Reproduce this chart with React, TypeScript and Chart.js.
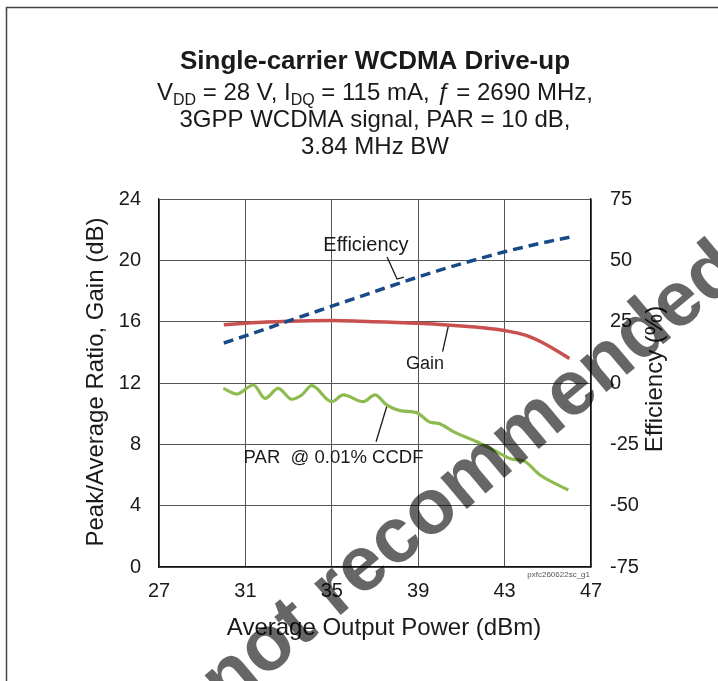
import React, { useEffect, useRef } from "react";
import { Chart, registerables } from "chart.js";

Chart.register(...registerables);

// ---------- data ----------
const effPower = [30, 31, 32, 33, 34, 35, 36, 37, 38, 39, 40, 41, 42, 43, 44, 45, 46];
const effValues = [16.3, 19.2, 22.2, 25.3, 28.3, 31.3, 34.3, 37.3, 40.3, 43.2, 46.0, 48.6, 51.1, 53.5, 55.6, 57.6, 59.4];

const gainPower = [30, 31, 32, 33, 34, 35, 36, 37, 38, 39, 40, 41, 42, 43, 44, 45, 46];
const gainValues = [15.8, 15.9, 15.98, 16.03, 16.06, 16.07, 16.05, 16.0, 15.95, 15.9, 15.82, 15.72, 15.6, 15.42, 15.1, 14.45, 13.6];

const parPower = [29.98, 30.6, 31.37, 31.91, 32.52, 33.14, 33.61, 34.07, 35.0, 35.53, 36.46, 37.0, 37.54, 38.16, 38.93, 39.55, 39.93, 40.63, 41.71, 42.48, 43.4, 43.87, 44.64, 45.95];
const parValues = [11.65, 11.28, 11.87, 11.0, 11.65, 10.94, 11.22, 11.83, 10.78, 11.22, 10.78, 11.22, 10.57, 10.2, 10.07, 9.44, 9.37, 8.83, 8.17, 7.63, 7.02, 6.93, 6.0, 5.02];

const xTicks = [27, 31, 35, 39, 43, 47];
const leftTicks = [0, 4, 8, 12, 16, 20, 24];
const rightTicks = [-75, -50, -25, 0, 25, 50, 75];

const titleText = "Single-carrier WCDMA Drive-up";
const subtitleLine2 = "3GPP WCDMA signal, PAR = 10 dB,";
const subtitleLine3 = "3.84 MHz BW";
const xTitle = "Average Output Power (dBm)";
const yTitle = "Peak/Average Ratio, Gain (dB)";
const y1Title = "Efficiency (%)";
const figureCode = "pxfc260622sc_g1";
const watermark = "not recommended";

// annotation labels (data coordinates on x / left y axis)
const effLabel = { text: "Efficiency", x: 36.58, y: 20.61, leader: [[37.56, 20.22], [38.02, 18.78], [38.34, 18.91]] };
const gainLabel = { text: "Gain", x: 39.31, y: 12.91, leader: [[40.13, 14.04], [40.39, 15.67]] };
const parLabel = { text: "PAR  @ 0.01% CCDF", x: 35.08, y: 6.78, leader: [[37.05, 8.17], [37.54, 10.45]] };

const FONT = "'Liberation Sans', Arial, Helvetica, sans-serif";

const toXY = (xs: number[], ys: number[]) => xs.map((x, i) => ({ x, y: ys[i] }));

type Seg = { t: string; sub?: boolean; it?: boolean };

function drawRich(ctx: CanvasRenderingContext2D, segs: Seg[], cx: number, baseline: number, size: number) {
  const fontFor = (s: Seg) =>
    `${s.it ? "italic " : ""}${s.sub ? Math.round(size * 0.68) : size}px ${FONT}`;
  let total = 0;
  for (const s of segs) {
    ctx.font = fontFor(s);
    total += ctx.measureText(s.t).width;
  }
  let x = cx - total / 2;
  ctx.textAlign = "left";
  ctx.textBaseline = "alphabetic";
  for (const s of segs) {
    ctx.font = fontFor(s);
    ctx.fillText(s.t, x, baseline + (s.sub ? size * 0.22 : 0));
    x += ctx.measureText(s.t).width;
  }
}

const overlayPlugin = {
  id: "overlay",
  beforeDraw(chart: any) {
    const ctx: CanvasRenderingContext2D = chart.ctx;
    ctx.save();
    ctx.fillStyle = "#ffffff";
    ctx.fillRect(0, 0, chart.width, chart.height);
    ctx.strokeStyle = "#444";
    ctx.lineWidth = 1.5;
    ctx.beginPath();
    ctx.moveTo(6.5, chart.height);
    ctx.lineTo(6.5, 7.5);
    ctx.lineTo(chart.width, 7.5);
    ctx.stroke();
    ctx.restore();
  },
  afterDraw(chart: any) {
    const ctx: CanvasRenderingContext2D = chart.ctx;
    const area = chart.chartArea;
    const xs = chart.scales.x;
    const ys = chart.scales.y;
    ctx.save();
    ctx.fillStyle = "#1a1a1a";

    // titles
    const cx = (area.left + area.right) / 2;
    ctx.font = `bold 26px ${FONT}`;
    ctx.textAlign = "center";
    ctx.textBaseline = "alphabetic";
    ctx.fillText(titleText, cx, 69);
    drawRich(
      ctx,
      [
        { t: "V" },
        { t: "DD", sub: true },
        { t: " = 28 V, I" },
        { t: "DQ", sub: true },
        { t: " = 115 mA, " },
        { t: "ƒ", it: true },
        { t: " = 2690 MHz," },
      ],
      cx,
      100,
      24
    );
    drawRich(ctx, [{ t: subtitleLine2 }], cx, 127, 24);
    drawRich(ctx, [{ t: subtitleLine3 }], cx, 154, 24);

    // axis titles
    ctx.font = `24px ${FONT}`;
    ctx.textAlign = "center";
    ctx.textBaseline = "middle";
    ctx.fillText(xTitle, cx + 9, 628);
    const cy = (area.top + area.bottom) / 2;
    ctx.save();
    ctx.translate(96, cy - 1);
    ctx.rotate(-Math.PI / 2);
    ctx.fillText(yTitle, 0, 0);
    ctx.restore();
    ctx.save();
    ctx.translate(655, cy - 4);
    ctx.rotate(-Math.PI / 2);
    ctx.fillText(y1Title, 0, 0);
    ctx.restore();

    // figure code
    ctx.font = `8px ${FONT}`;
    ctx.fillStyle = "#555";
    ctx.textAlign = "right";
    ctx.textBaseline = "middle";
    ctx.fillText(figureCode, area.right - 1, area.bottom + 8);

    // annotations
    ctx.fillStyle = "#1a1a1a";
    ctx.strokeStyle = "#1a1a1a";
    ctx.lineWidth = 1.3;
    const labels = [
      { l: effLabel, size: 20 },
      { l: gainLabel, size: 18 },
      { l: parLabel, size: 18.5 },
    ];
    for (const { l, size } of labels) {
      ctx.font = `${size}px ${FONT}`;
      ctx.textAlign = "center";
      ctx.textBaseline = "alphabetic";
      ctx.fillText(l.text, xs.getPixelForValue(l.x), ys.getPixelForValue(l.y));
      ctx.beginPath();
      l.leader.forEach((p, i) => {
        const px = xs.getPixelForValue(p[0]);
        const py = ys.getPixelForValue(p[1]);
        if (i === 0) ctx.moveTo(px, py);
        else ctx.lineTo(px, py);
      });
      ctx.stroke();
    }

    // watermark
    ctx.save();
    ctx.translate(486, 493);
    ctx.rotate((-40 * Math.PI) / 180);
    ctx.font = `bold 78px ${FONT}`;
    ctx.fillStyle = "rgba(0,0,0,0.6)";
    ctx.textAlign = "center";
    ctx.textBaseline = "alphabetic";
    ctx.fillText(watermark, 0, 0);
    ctx.restore();

    ctx.restore();
  },
};

export default function App() {
  const canvasRef = useRef<HTMLCanvasElement | null>(null);

  useEffect(() => {
    const canvas = canvasRef.current;
    if (!canvas) return;
    Chart.defaults.font.family = FONT;
    const tickFont = { size: 20, family: FONT };
    const chart = new Chart(canvas, {
      type: "line",
      data: {
        datasets: [
          {
            label: "Efficiency",
            data: toXY(effPower, effValues),
            yAxisID: "y1",
            borderColor: "#174a86",
            borderWidth: 3.5,
            borderDash: [10, 6],
            pointRadius: 0,
            cubicInterpolationMode: "monotone",
            fill: false,
          },
          {
            label: "Gain",
            data: toXY(gainPower, gainValues),
            yAxisID: "y",
            borderColor: "#c8504f",
            borderWidth: 3.5,
            pointRadius: 0,
            cubicInterpolationMode: "monotone",
            fill: false,
          },
          {
            label: "PAR @ 0.01% CCDF",
            data: toXY(parPower, parValues),
            yAxisID: "y",
            borderColor: "#8dbb4f",
            borderWidth: 3.2,
            pointRadius: 0,
            cubicInterpolationMode: "monotone",
            fill: false,
          },
        ],
      },
      options: {
        responsive: false,
        animation: false,
        devicePixelRatio: 1,
        layout: { padding: { top: 199, left: 0, right: 0, bottom: 0 } },
        plugins: {
          legend: { display: false },
          title: { display: false },
          tooltip: { enabled: false },
        },
        scales: {
          x: {
            type: "linear",
            min: 27,
            max: 47,
            afterBuildTicks: (s: any) => {
              s.ticks = xTicks.map((v) => ({ value: v }));
            },
            ticks: { font: tickFont, color: "#1a1a1a", padding: 12 },
            grid: { color: "#555", lineWidth: 1, drawTicks: false },
            border: { color: "#111", width: 1.2 },
            afterFit: (s: any) => {
              s.height = 114;
            },
          },
          y: {
            type: "linear",
            position: "left",
            min: 0,
            max: 24,
            afterBuildTicks: (s: any) => {
              s.ticks = leftTicks.map((v) => ({ value: v }));
            },
            ticks: { font: tickFont, color: "#1a1a1a", padding: 18 },
            grid: { color: "#555", lineWidth: 1, drawTicks: false },
            border: { color: "#111", width: 1.2 },
            afterFit: (s: any) => {
              s.width = 159;
            },
          },
          y1: {
            type: "linear",
            position: "right",
            min: -75,
            max: 75,
            afterBuildTicks: (s: any) => {
              s.ticks = rightTicks.map((v) => ({ value: v }));
            },
            ticks: { font: tickFont, color: "#1a1a1a", padding: 19 },
            grid: { display: false, drawTicks: false },
            border: { color: "#111", width: 1.2 },
            afterFit: (s: any) => {
              s.width = 127;
            },
          },
        },
      },
      plugins: [overlayPlugin],
    } as any);
    return () => chart.destroy();
  }, []);

  return (
    <div style={{ position: "fixed", left: 0, top: 0, width: 718, height: 681, background: "#fff" }}>
      <canvas ref={canvasRef} width={718} height={681} style={{ width: 718, height: 681, display: "block" }} />
    </div>
  );
}
